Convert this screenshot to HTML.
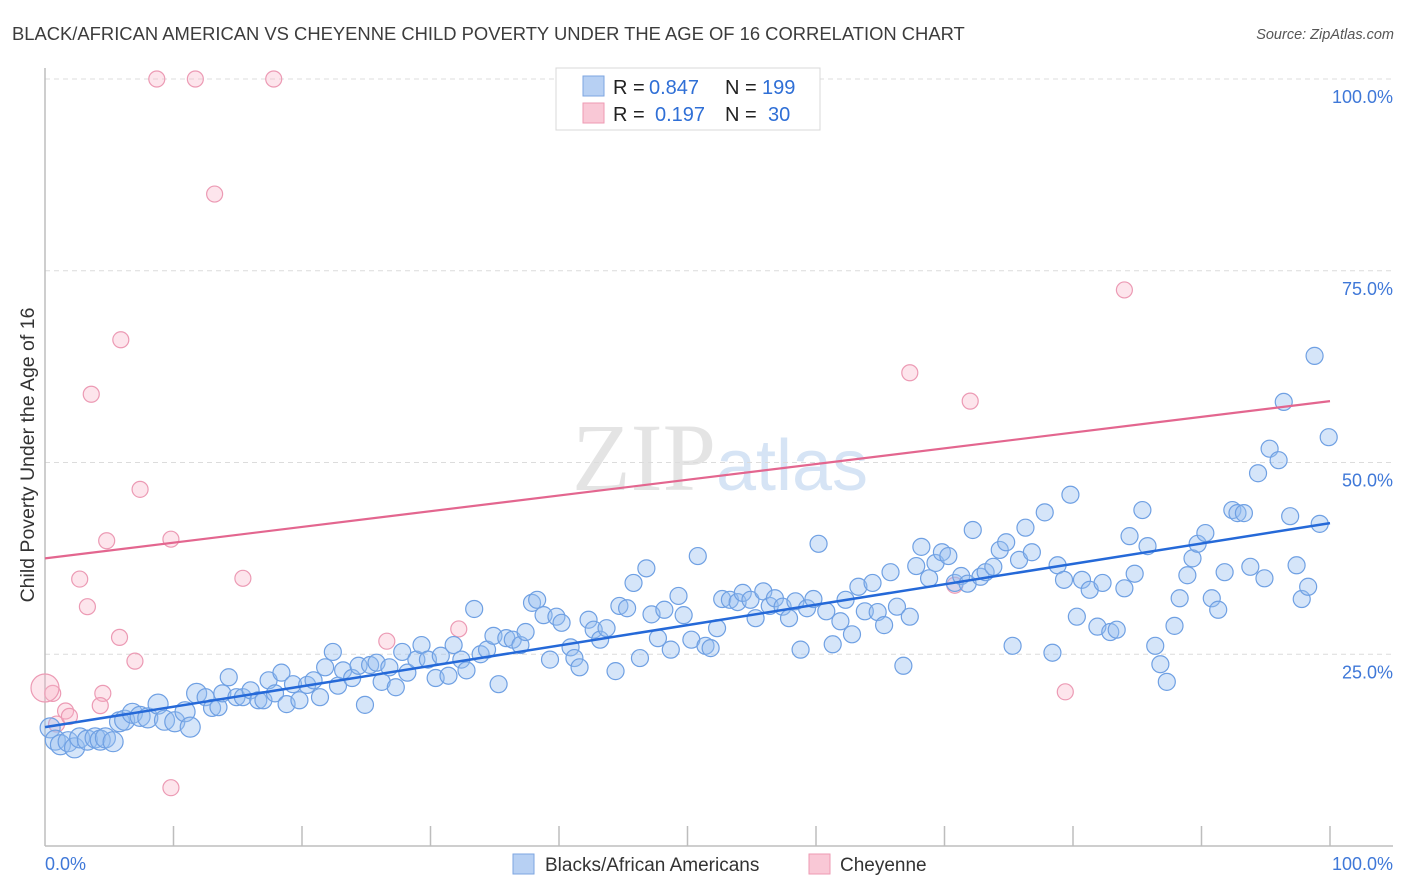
<!DOCTYPE html>
<html><head><meta charset="utf-8"><style>
body{margin:0;background:#fff;font-family:"Liberation Sans",sans-serif;}
svg{display:block}
</style></head><body>
<svg id="chart" width="1406" height="892" viewBox="0 0 1406 892" xmlns="http://www.w3.org/2000/svg">
<text x="12" y="40" font-size="18.4" fill="#3c3c3c">BLACK/AFRICAN AMERICAN VS CHEYENNE CHILD POVERTY UNDER THE AGE OF 16 CORRELATION CHART</text>
<text x="1394" y="39" font-size="14.5" fill="#555" font-style="italic" text-anchor="end">Source: ZipAtlas.com</text>
<text x="720" y="490" font-size="96" text-anchor="middle" font-family="Liberation Serif,serif" fill="#e4e4e4">ZIP<tspan fill="#d6e4f5" font-family="Liberation Sans,sans-serif" font-size="72">atlas</tspan></text>
<g id="grid"></g>
<g id="axes"></g>
<g id="pinkPts"></g>
<g id="bluePts"></g>
<g id="trends"></g>
<text transform="translate(34,455) rotate(-90)" font-size="19.5" fill="#333" text-anchor="middle">Child Poverty Under the Age of 16</text>
<g>
<rect x="556" y="68" width="264" height="62" fill="#fff" stroke="#d8d8d8"/>
<rect x="583" y="76" width="21" height="20" fill="#b7d0f3" stroke="#7ea6e0"/>
<rect x="583" y="103" width="21" height="20" fill="#f9c8d6" stroke="#ee9ab3"/>
<text y="94" font-size="20" fill="#222"><tspan x="613">R =</tspan><tspan x="649" fill="#2f6fd6">0.847</tspan><tspan x="725">N =</tspan><tspan x="762" fill="#2f6fd6">199</tspan></text>
<text y="121" font-size="20" fill="#222"><tspan x="613">R =</tspan><tspan x="655" fill="#2f6fd6">0.197</tspan><tspan x="725">N =</tspan><tspan x="768" fill="#2f6fd6">30</tspan></text>
</g>
<g>
<rect x="513" y="854" width="21" height="20" fill="#b7d0f3" stroke="#7ea6e0"/>
<text x="545" y="871" font-size="19" fill="#333">Blacks/African Americans</text>
<rect x="809" y="854" width="21" height="20" fill="#f9c8d6" stroke="#ee9ab3"/>
<text x="840" y="871" font-size="19" fill="#333">Cheyenne</text>
</g>
</svg>
<script>
const yTicks=[25,50,75,100];
const yTickLabels=["25.0%","50.0%","75.0%","100.0%"];
const xTickLabels=["0.0%","100.0%"];
const blueTrend=[15.5,42.1];
const pinkTrend=[37.5,58.0];
const pinkX=[8.7,11.7,17.8,13.2,5.9,3.6,7.4,4.8,9.8,2.7,3.3,15.4,5.8,7.0,4.5,4.3,1.6,0.9,0.6,0,1.9,9.8,26.6,32.2,67.3,72.0,84.0,79.4,70.8];
const pinkY=[100,100,100,85.0,66.0,58.9,46.5,39.8,40.0,34.8,31.2,34.9,27.2,24.1,19.9,18.3,17.6,15.9,19.9,20.6,16.9,7.6,26.7,28.3,61.7,58.0,72.5,20.1,34.0];
const blueX=[0.4,0.8,1.2,1.8,2.3,2.7,3.3,3.9,4.3,4.7,5.3,5.8,6.2,6.8,7.4,8.0,8.8,9.3,10.1,10.9,11.3,11.8,12.5,13.0,13.5,13.8,14.3,14.9,15.4,16.0,16.6,17.0,17.4,17.9,18.4,18.8,19.3,19.8,20.4,20.9,21.4,21.8,22.4,22.8,23.2,23.9,24.4,24.9,25.3,25.8,26.2,26.8,27.3,27.8,28.2,28.9,29.3,29.8,30.4,30.8,31.4,31.8,32.4,32.8,33.4,33.9,34.4,34.9,35.3,35.9,36.4,37.0,37.4,37.9,38.3,38.8,39.3,39.8,40.2,40.9,41.2,41.6,42.3,42.7,43.2,43.7,44.4,44.7,45.3,45.8,46.3,46.8,47.2,47.7,48.2,48.7,49.3,49.7,50.3,50.8,51.4,51.8,52.3,52.7,53.3,53.9,54.3,54.9,55.3,55.9,56.4,56.8,57.4,57.9,58.4,58.8,59.3,59.8,60.2,60.8,61.3,61.9,62.3,62.8,63.3,63.8,64.4,64.8,65.3,65.8,66.3,66.8,67.3,67.8,68.2,68.8,69.3,69.8,70.3,70.8,71.3,71.8,72.2,72.8,73.2,73.8,74.3,74.8,75.3,75.8,76.3,76.8,77.8,78.4,78.8,79.3,79.8,80.3,80.7,81.3,81.9,82.3,82.9,83.4,84.0,84.4,84.8,85.4,85.8,86.4,86.8,87.3,87.9,88.3,88.9,89.3,89.7,90.3,90.8,91.3,91.8,92.4,92.8,93.3,93.8,94.4,94.9,95.3,96.0,96.4,96.9,97.4,97.8,98.3,98.8,99.2,99.9];
const blueY=[15.4,13.8,13.2,13.6,12.8,14.1,13.8,14.1,13.8,14.1,13.6,16.2,16.4,17.3,16.9,16.7,18.5,16.4,16.2,17.5,15.5,19.9,19.4,18.0,18.1,19.9,22.0,19.4,19.4,20.3,19.0,19.0,21.6,19.9,22.6,18.5,21.1,19.0,21.0,21.6,19.4,23.3,25.3,20.9,22.9,21.9,23.5,18.4,23.6,23.9,21.4,23.3,20.7,25.3,22.6,24.3,26.2,24.3,21.9,24.8,22.2,26.2,24.3,22.9,30.9,25.0,25.6,27.4,21.1,27.1,26.9,26.2,27.9,31.7,32.1,30.1,24.3,29.9,29.1,25.9,24.5,23.3,29.5,28.2,26.9,28.4,22.8,31.3,31.0,34.3,24.5,36.2,30.2,27.1,30.8,25.6,32.6,30.1,26.9,37.8,26.1,25.8,28.4,32.2,32.1,31.8,33.0,32.1,29.7,33.2,31.3,32.3,31.2,29.7,31.9,25.6,31.0,32.2,39.4,30.6,26.3,29.3,32.1,27.6,33.8,30.6,34.3,30.5,28.8,35.7,31.2,23.5,29.9,36.5,39.0,34.9,36.9,38.3,37.8,34.3,35.2,34.2,41.2,35.1,35.7,36.4,38.6,39.6,26.1,37.3,41.5,38.3,43.5,25.2,36.6,34.7,45.8,29.9,34.7,33.4,28.6,34.3,27.9,28.2,33.6,40.4,35.5,43.8,39.1,26.1,23.7,21.4,28.7,32.3,35.3,37.5,39.4,40.8,32.3,30.8,35.7,43.8,43.4,43.4,36.4,48.6,34.9,51.8,50.3,57.9,43.0,36.6,32.2,33.8,63.9,42.0,53.3];
const NS="http://www.w3.org/2000/svg";
const X0=45,X1=1330,Y0=846,Y100=79;
const sx=v=>X0+(X1-X0)*v/100;
const sy=v=>Y0-(Y0-Y100)*v/100;
function mk(tag,attrs,parent){const e=document.createElementNS(NS,tag);for(const k in attrs)e.setAttribute(k,attrs[k]);document.getElementById(parent).appendChild(e);return e;}
yTicks.forEach((t,i)=>{
 const l=mk('line',{x1:X0,x2:1393,y1:sy(t),y2:sy(t),stroke:'#dcdcdc','stroke-dasharray':'5,4'},'grid');
 
 
 const tx=mk('text',{x:1393,y:sy(t)+24,'font-size':18,fill:'#3f78d8','text-anchor':'end'},'grid');
 tx.textContent=yTickLabels[i];
 
 
});
let a=mk('line',{x1:X0,x2:X0,y1:68,y2:Y0,stroke:'#bdbdbd','stroke-width':1.5},'axes');


a=mk('line',{x1:X0,x2:1393,y1:Y0,y2:Y0,stroke:'#bdbdbd','stroke-width':1.5},'axes');


for(let i=1;i<=10;i++){
 const t=mk('line',{x1:sx(i*10),x2:sx(i*10),y1:826,y2:Y0,stroke:'#bdbdbd','stroke-width':1.5},'axes');
 
 
}
let xl=mk('text',{x:X0,y:870,'font-size':18,fill:'#3f78d8'},'axes');xl.textContent=xTickLabels[0];


xl=mk('text',{x:1393,y:870,'font-size':18,fill:'#3f78d8','text-anchor':'end'},'axes');xl.textContent=xTickLabels[1];


pinkX.forEach((x,i)=>{
 const c=mk('circle',{cx:sx(x),cy:sy(pinkY[i]),r:x===0?14:8,fill:'rgba(248,180,200,0.35)',stroke:'#ec9ab4','stroke-width':1.2},'pinkPts');
 
 
});
blueX.forEach((x,i)=>{
 const c=mk('circle',{cx:sx(x),cy:sy(blueY[i]),r:x<12?10:8.5,fill:'rgba(150,190,240,0.4)',stroke:'#6fa0e3','stroke-width':1.2},'bluePts');
 
 
});
let tl=mk('line',{x1:sx(0),x2:sx(100),y1:sy(pinkTrend[0]),y2:sy(pinkTrend[1]),stroke:'#e3668f','stroke-width':2.2},'trends');


tl=mk('line',{x1:sx(0),x2:sx(100),y1:sy(blueTrend[0]),y2:sy(blueTrend[1]),stroke:'#2569d8','stroke-width':2.5},'trends');


</script>
</body></html>
